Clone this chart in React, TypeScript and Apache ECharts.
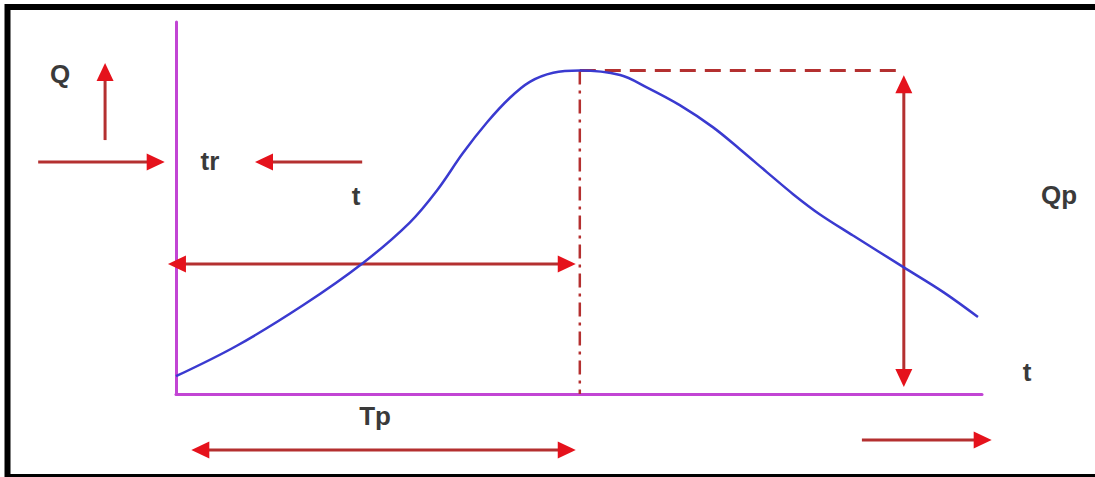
import React, { useEffect, useRef } from "react";
import * as echarts from "echarts";

// Hydrograph curve (time t, discharge Q relative to Qp)
const timeValues = [
  0, 0.76, 1.58, 2.32, 2.9, 3.24, 3.56, 3.86, 4.14, 4.39, 4.68, 5.01,
  5.51, 5.84, 6.25, 6.66, 7.0, 7.33, 7.66, 7.99, 8.4, 9.02, 9.52, 9.95,
];
const flowValues = [
  0.055, 0.15, 0.275, 0.405, 0.53, 0.63, 0.745, 0.84, 0.915, 0.965, 0.993, 1.0,
  0.986, 0.948, 0.893, 0.825, 0.756, 0.686, 0.617, 0.555, 0.49, 0.393, 0.315, 0.238,
];

const peakTime = 5.01;
const peakFlow = 1.0;
const qpMarkerTime = 9.03;

// Arrows: [t1, q1, t2, q2, headAtStart, headAtEnd]
const arrowSegments = [
  [-0.88, 0.785, -0.88, 1.023, 0, 1], // Q up arrow
  [-1.71, 0.717, -0.14, 0.717, 0, 1], // arrow into axis
  [2.31, 0.717, 0.98, 0.717, 0, 1], // t -> tr arrow
  [-0.1, 0.402, 4.96, 0.402, 1, 1], // rising limb span
  [9.03, 0.022, 9.03, 0.985, 1, 1], // Qp span
  [0.19, -0.173, 4.96, -0.173, 1, 1], // Tp span
  [8.51, -0.142, 10.12, -0.142, 0, 1], // t direction
];

// Text labels (pixel anchors)
const labelTexts = ["Q", "tr", "t", "Tp", "Qp", "t"];
const labelX = [60, 210, 356, 375, 1059, 1027];
const labelY = [74, 161, 196, 416, 195, 372];

export default function App() {
  const ref = useRef<HTMLDivElement>(null);
  useEffect(() => {
    if (!ref.current) return;
    const chart = echarts.init(ref.current, undefined, { renderer: "svg" });
    const curve = timeValues.map((t, i) => [t, flowValues[i]]);
    const L = 18;
    const W = 8.5;
    const headColor = "#e5121c";
    const shaftColor = "#b43030";
    chart.setOption({
      animation: false,
      backgroundColor: "#ffffff",
      grid: { left: 176, right: 113, top: 22, bottom: 83 },
      xAxis: {
        type: "value",
        min: 0,
        max: 10,
        axisLine: { show: true, lineStyle: { color: "#c245d4", width: 3 } },
        axisTick: { show: false },
        axisLabel: { show: false },
        splitLine: { show: false },
      },
      yAxis: {
        type: "value",
        min: 0,
        max: 1.15,
        axisLine: { show: true, lineStyle: { color: "#c245d4", width: 3 } },
        axisTick: { show: false },
        axisLabel: { show: false },
        splitLine: { show: false },
      },
      graphic: [
        {
          type: "rect",
          shape: { x: 7.5, y: 7, width: 1100, height: 470 },
          style: { fill: "none", stroke: "#000000", lineWidth: 6 },
          z: 100,
        },
        ...labelTexts.map((txt, i) => ({
          type: "text",
          x: labelX[i],
          y: labelY[i],
          style: {
            text: txt,
            fill: "#3a3a3a",
            font: "bold 26px 'Liberation Sans', Arial, sans-serif",
            align: "center",
            verticalAlign: "middle",
          },
        })),
      ],
      series: [
        {
          type: "line",
          data: [
            [peakTime, peakFlow],
            [qpMarkerTime, peakFlow],
          ],
          symbol: "none",
          lineStyle: { color: shaftColor, width: 3, type: [16, 9] },
          z: 3,
        },
        {
          type: "line",
          data: [
            [peakTime, peakFlow],
            [peakTime, 0],
          ],
          symbol: "none",
          lineStyle: { color: shaftColor, width: 2.5, type: [14, 6, 3, 6] },
          z: 3,
        },
        {
          type: "custom",
          clip: false,
          data: arrowSegments,
          encode: { x: [0, 2], y: [1, 3] },
          z: 4,
          renderItem: (params: any, api: any) => {
            const a = api.coord([api.value(0), api.value(1)]);
            const b = api.coord([api.value(2), api.value(3)]);
            const hs = api.value(4);
            const he = api.value(5);
            const dx = b[0] - a[0];
            const dy = b[1] - a[1];
            const len = Math.hypot(dx, dy) || 1;
            const ux = dx / len;
            const uy = dy / len;
            const s = hs ? [a[0] + ux * L * 0.6, a[1] + uy * L * 0.6] : a;
            const e = he ? [b[0] - ux * L * 0.6, b[1] - uy * L * 0.6] : b;
            const head = (tip: number[], vx: number, vy: number) => ({
              type: "polygon",
              shape: {
                points: [
                  tip,
                  [tip[0] - vx * L - vy * W, tip[1] - vy * L + vx * W],
                  [tip[0] - vx * L + vy * W, tip[1] - vy * L - vx * W],
                ],
              },
              style: { fill: headColor },
            });
            const children: any[] = [
              {
                type: "line",
                shape: { x1: s[0], y1: s[1], x2: e[0], y2: e[1] },
                style: { stroke: shaftColor, lineWidth: 3 },
              },
            ];
            if (hs) children.push(head(a, -ux, -uy));
            if (he) children.push(head(b, ux, uy));
            return { type: "group", children };
          },
        },
        {
          type: "line",
          data: curve,
          smooth: 0.35,
          symbol: "none",
          lineStyle: { color: "#3a3ad0", width: 2.5 },
          z: 5,
        },
      ],
    });
    return () => chart.dispose();
  }, []);
  return (
    <div
      ref={ref}
      style={{ position: "fixed", left: 0, top: 0, width: 1095, height: 477 }}
    />
  );
}
